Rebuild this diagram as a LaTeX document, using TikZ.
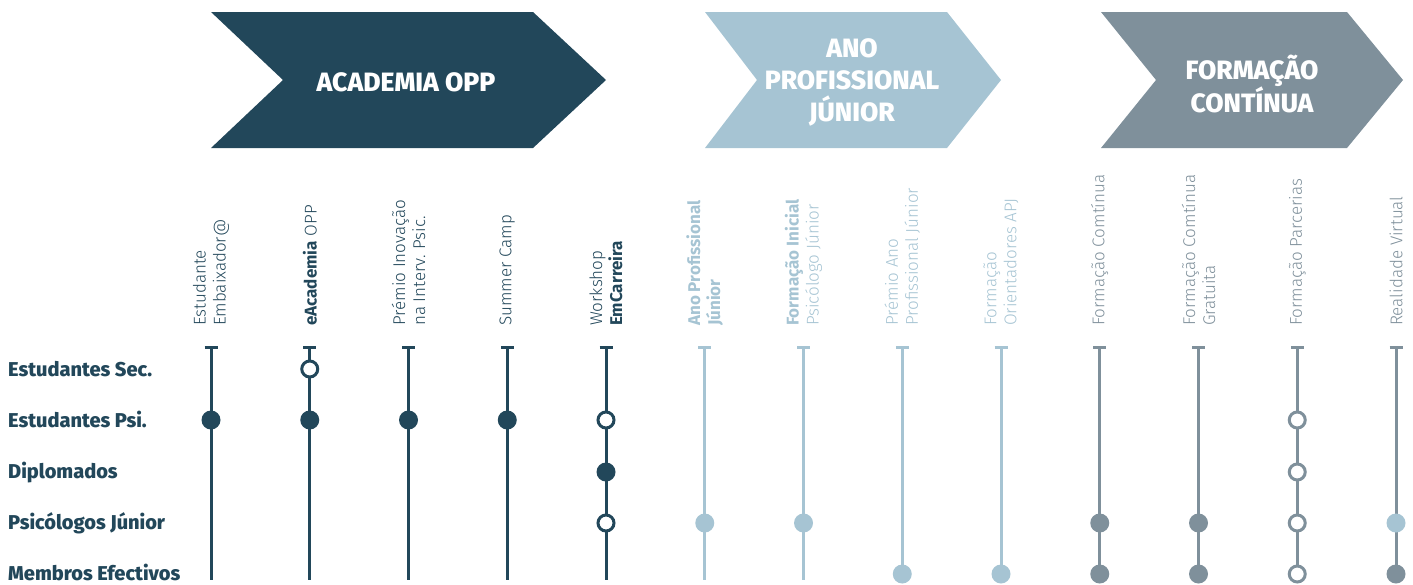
\documentclass[tikz,border=0pt]{standalone}
\usepackage{fontspec}
\setmainfont{Fira Sans}
\newfontfamily\lightfont{Fira Sans Light}[BoldFont={Fira Sans Bold}]
\newfontfamily\heavyfont{Fira Sans ExtraBold}
\definecolor{cdark}{HTML}{22475A}
\definecolor{clight}{HTML}{A6C4D3}
\definecolor{cgrey}{HTML}{7F909B}
\begin{document}
\begin{tikzpicture}[x=1pt,y=-1pt,
  stem/.style={line width=3pt,draw=#1},
  capbar/.style={line width=3pt,draw=#1},
  full/.style={circle,inner sep=0pt,minimum size=19pt,fill=#1},
  hollow/.style={circle,inner sep=0pt,minimum size=16pt,draw=#1,line width=3pt,fill=white},
  collabel/.style={rotate=90,anchor=west,align=left,inner sep=0pt,font=\lightfont\fontsize{17}{20}\selectfont,text=#1},
  rowlabel/.style={anchor=base west,inner sep=0pt,font=\heavyfont\fontsize{20}{22}\selectfont,text=cdark},
  headtext/.style={align=center,inner sep=0pt,text=white,font=\heavyfont\fontsize{26.5}{32}\selectfont},
  chev/.style={fill=#1}
]
\useasboundingbox (0,0) rectangle (1413,584);
% chevrons
\fill[chev=cdark] (211,12) -- (533,12) -- (606,80) -- (533,148) -- (211,148) -- (283,80) -- cycle;
\fill[chev=clight] (705,12) -- (947,12) -- (1001,80) -- (947,148) -- (705,148) -- (757,80) -- cycle;
\fill[chev=cgrey] (1101,12) -- (1347,12) -- (1403,80) -- (1347,148) -- (1101,148) -- (1156,80) -- cycle;
\node[headtext] (h1) at (406,82) {ACADEMIA OPP};
\node[headtext] (h2) at (852,82) {ANO\\PROFISSIONAL\\JÚNIOR};
\node[headtext] (h3) at (1252,84) {FORMAÇÃO\\CONTÍNUA};
% columns
\foreach \i/\c in {0/cdark,1/cdark,2/cdark,3/cdark,4/cdark,5/clight,6/clight,7/clight,8/clight,9/cgrey,10/cgrey,11/cgrey,12/cgrey}{
  \coordinate (top\i) at ({211+98.75*\i},347);
  \coordinate (bot\i) at ({211+98.75*\i},580);
  \coordinate (lab\i) at ({211+98.75*\i},326);
  \draw[stem=\c] (top\i) -- (bot\i);
  \draw[capbar=\c] (top\i) ++(-6.5,0) -- ++(13,0);
}
% row labels
\node[rowlabel] (r0) at (8,376) {Estudantes Sec.};
\node[rowlabel] (r1) at (8,427) {Estudantes Psi.};
\node[rowlabel] (r2) at (8,478.5) {Diplomados};
\node[rowlabel] (r3) at (8,529.5) {Psicólogos Júnior};
\node[rowlabel] (r4) at (8,580) {Membros Efectivos};
% column labels
\node[collabel=cdark] (l0) at (lab0) {Estudante\\Embaixador@};
\node[collabel=cdark] (l1) at (lab1) {\textbf{eAcademia} OPP};
\node[collabel=cdark] (l2) at (lab2) {Prémio Inovação\\na Interv. Psic.};
\node[collabel=cdark] (l3) at (lab3) {Summer Camp};
\node[collabel=cdark] (l4) at (lab4) {Workshop\\\textbf{EmCarreira}};
\node[collabel=clight] (l5) at (lab5) {\textbf{Ano Profissional}\\\textbf{Júnior}};
\node[collabel=clight] (l6) at (lab6) {\textbf{Formação Inicial}\\Psicólogo Júnior};
\node[collabel=clight] (l7) at (lab7) {Prémio Ano\\Profissional Júnior};
\node[collabel=clight] (l8) at (lab8) {Formação\\Orientadores APJ};
\node[collabel=cgrey] (l9) at (lab9) {Formação Comtínua};
\node[collabel=cgrey] (l10) at (lab10) {Formação Comtínua\\Gratuita};
\node[collabel=cgrey] (l11) at (lab11) {Formação Parcerias};
\node[collabel=cgrey] (l12) at (lab12) {Realidade Virtual};
% markers
\def\rowy#1{\ifcase#1 369\or 420\or 472\or 523\or 574\fi}
\foreach \i/\r/\t/\c in {0/1/full/cdark, 1/0/hollow/cdark, 1/1/full/cdark, 2/1/full/cdark, 3/1/full/cdark,
  4/1/hollow/cdark, 4/2/full/cdark, 4/3/hollow/cdark,
  5/3/full/clight, 6/3/full/clight, 7/4/full/clight, 8/4/full/clight,
  9/3/full/cgrey, 9/4/full/cgrey, 10/3/full/cgrey, 10/4/full/cgrey,
  11/1/hollow/cgrey, 11/2/hollow/cgrey, 11/3/hollow/cgrey, 11/4/hollow/cgrey,
  12/3/full/clight, 12/4/full/cgrey}{
  \node[\t=\c] (m\i-\r) at ({211+98.75*\i},{\rowy{\r}}) {};
}
\end{tikzpicture}
\end{document}
